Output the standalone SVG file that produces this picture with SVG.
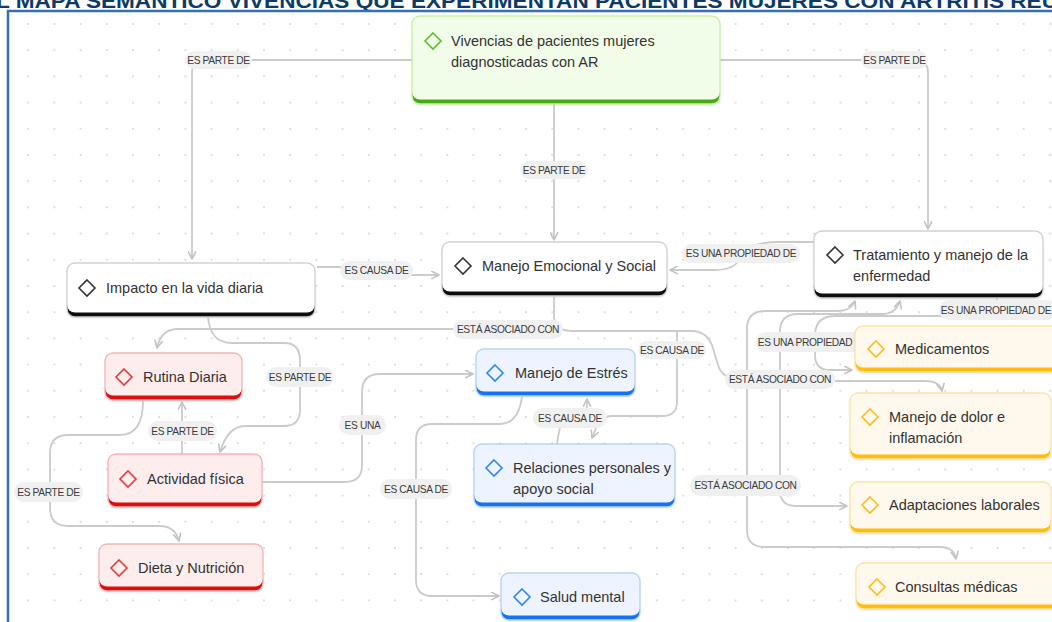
<svg xmlns="http://www.w3.org/2000/svg" width="1052" height="622" viewBox="0 0 1052 622">
<defs>
<pattern id="dots" patternUnits="userSpaceOnUse" x="1" y="23" width="26.2" height="26.2">
<circle cx="1" cy="1" r="0.9" fill="#cfcfcf"/>
</pattern>
<marker id="arr" viewBox="0 0 10 10" refX="9" refY="5" markerWidth="9" markerHeight="9" markerUnits="userSpaceOnUse" orient="auto-start-reverse">
<path d="M1,1 L9,5 L1,9" fill="none" stroke="#c2c2c2" stroke-width="1.8" stroke-linecap="round" stroke-linejoin="round"/>
</marker>
<filter id="sh" x="-5%" y="-10%" width="110%" height="130%">
<feDropShadow dx="0" dy="1" stdDeviation="1.2" flood-color="#000" flood-opacity="0.12"/>
</filter>
<style>
.conn{fill:none;stroke:#cbcbcb;stroke-width:1.8}
.lbl rect{fill:#f0f0f0}
.lbl text{font-family:"Liberation Sans",Arial,sans-serif;font-size:10.2px;fill:#3c3c3c;text-anchor:middle;letter-spacing:-0.35px}
.t{font-family:"Liberation Sans",Arial,sans-serif;font-size:14.5px;fill:#333}
.dm{fill:none;stroke-width:1.6}
.ol{fill:none;stroke-width:1.3}
.bar{filter:url(#sh)}
.w .bg{fill:#fff}.w .bar{fill:#111}.w .ol{stroke:#d2d2d2}.w .dm{stroke:#333}
.g .bg{fill:#f1fde9}.g .bar{fill:#4ca814}.g .ol{stroke:#c6f3a2}.g .dm{stroke:#5bbf2a}
.r .bg{fill:#fdeded}.r .bar{fill:#dd0a0a}.r .ol{stroke:#f7b4b4}.r .dm{stroke:#e8393b}
.b .bg{fill:#edf4ff}.b .bar{fill:#1672f0}.b .ol{stroke:#b7d3fb}.b .dm{stroke:#2f86f6}
.y .bg{fill:#fff8ec}.y .bar{fill:#ffbd0a}.y .ol{stroke:#fde3a7}.y .dm{stroke:#ffbb1c}
</style>
</defs>
<rect x="0" y="0" width="1052" height="622" fill="#fff"/>
<rect x="9" y="12" width="1043" height="610" fill="url(#dots)"/>
<text x="-4" y="7.5" font-family="Liberation Sans,Arial,sans-serif" font-weight="bold" font-size="20" fill="#0e3a66" textLength="1062" lengthAdjust="spacingAndGlyphs">L MAPA SEMÁNTICO VIVENCIAS QUE EXPERIMENTAN PACIENTES MUJERES CON ARTRITIS REU</text>
<path d="M 8,622 L 8,11 L 1052,11" fill="none" stroke="#3570b5" stroke-width="2.5"/>

<g id="connectors">
<path class="conn" marker-end="url(#arr)" d="M 412,60 L 205,60 Q 192,60 192,73 L 192,259"/>
<path class="conn" marker-end="url(#arr)" d="M 720,60 L 915,60 Q 928,60 928,73 L 928,229"/>
<path class="conn" marker-end="url(#arr)" d="M 554,104 L 554,240"/>
<path class="conn" marker-end="url(#arr)" d="M 317,267 L 360,267 Q 376,267 390,275 L 439,275"/>
<path class="conn" marker-end="url(#arr)" d="M 814,242 L 780,242 Q 745,242 740,258 Q 735,270 715,270 L 670,270"/>
<path class="conn" d="M 554,297 L 554,318 Q 556,331 572,331 L 692,331 Q 706,331 712,345 L 718,365 Q 722,378 735,378"/>
<path class="conn" marker-end="url(#arr)" d="M 563,329 L 178,329 Q 161,329 157,348"/>
<path class="conn" marker-end="url(#arr)" d="M 677,331 L 677,402 Q 677,416 662,416 L 610,416 Q 600,418 596,428 L 592,438"/>
<path class="conn" d="M 557,444 Q 558,436 560,428"/>
<path class="conn" marker-end="url(#arr)" d="M 587,410 L 587,399"/>
<path class="conn" marker-end="url(#arr)" d="M 522,397 Q 518,424 500,424 L 432,424 Q 416,424 416,440 L 416,580 Q 416,596 432,596 L 499,596"/>
<path class="conn" marker-end="url(#arr)" d="M 262,482 L 345,482 Q 362,482 362,465 L 362,392 Q 362,374 380,374 L 473,374"/>
<path class="conn" marker-end="url(#arr)" d="M 208,317 Q 210,343 232,343 L 284,343 Q 300,343 300,360 L 300,410 Q 300,426 284,426 L 245,426 Q 228,426 220,452"/>
<path class="conn" marker-end="url(#arr)" d="M 182,454 L 182,402"/>
<path class="conn" marker-end="url(#arr)" d="M 143,401 Q 143,435 120,435 L 68,435 Q 50,435 50,453 L 50,508 Q 50,526 68,526 L 160,526 Q 175,526 179,541"/>
<path class="conn" marker-start="url(#arr)" marker-end="url(#arr)" d="M 855,301 Q 851,311 838,311 L 765,311 Q 747,311 747,329 L 747,530 Q 747,547 765,547 L 940,547 Q 954,547 956,559"/>
<path class="conn" marker-start="url(#arr)" marker-end="url(#arr)" d="M 900,301 Q 896,314 882,314 L 798,314 Q 780,314 780,332 L 780,490 Q 780,506 796,506 L 847,506"/>
<path class="conn" d="M 997,298 L 997,305"/>
<path class="conn" marker-end="url(#arr)" d="M 945,316 L 835,316 Q 815,316 815,336 L 815,355 Q 815,370 830,370 L 852,370"/>
<path class="conn" marker-end="url(#arr)" d="M 835,381 L 925,381 Q 940,381 942,391"/>

<g class="lbl"><rect x="185" y="51" width="67" height="18" rx="9"/><text x="218.5" y="63.7">ES PARTE DE</text></g>
<g class="lbl"><rect x="861" y="51" width="67" height="18" rx="9"/><text x="894.5" y="63.7">ES PARTE DE</text></g>
<g class="lbl"><rect x="520" y="161" width="68" height="18" rx="9"/><text x="554" y="173.7">ES PARTE DE</text></g>
<g class="lbl"><rect x="340" y="261" width="73" height="19" rx="9.5"/><text x="376.5" y="274.2">ES CAUSA DE</text></g>
<g class="lbl"><rect x="682" y="244" width="118" height="19" rx="9.5"/><text x="741" y="257.2">ES UNA PROPIEDAD DE</text></g>
<g class="lbl"><rect x="453" y="320" width="110" height="19" rx="9.5"/><text x="508" y="333.2">ESTÁ ASOCIADO CON</text></g>
<g class="lbl"><rect x="638" y="341" width="68" height="18" rx="9"/><text x="672" y="353.7">ES CAUSA DE</text></g>
<g class="lbl"><rect x="266" y="367" width="68" height="20" rx="10"/><text x="300" y="380.7">ES PARTE DE</text></g>
<g class="lbl"><rect x="339" y="415" width="47" height="20" rx="10"/><text x="362.5" y="428.7">ES UNA</text></g>
<g class="lbl"><rect x="148" y="421" width="69" height="20" rx="10"/><text x="182.5" y="434.7">ES PARTE DE</text></g>
<g class="lbl"><rect x="14" y="482" width="69" height="20" rx="10"/><text x="48.5" y="495.7">ES PARTE DE</text></g>
<g class="lbl"><rect x="533" y="408" width="74" height="20" rx="10"/><text x="570" y="421.7">ES CAUSA DE</text></g>
<g class="lbl"><rect x="380" y="479" width="72" height="20" rx="10"/><text x="416" y="492.7">ES CAUSA DE</text></g>
<g class="lbl"><rect x="756" y="332" width="110" height="20" rx="10"/><text x="805" y="345.7">ES UNA PROPIEDAD</text></g>
<g class="lbl"><rect x="725" y="370" width="110" height="19" rx="9.5"/><text x="780" y="383.2">ESTÁ ASOCIADO CON</text></g>
<g class="lbl"><rect x="939" y="300" width="118" height="20" rx="10"/><text x="996" y="313.7">ES UNA PROPIEDAD DE</text></g>
<g class="lbl"><rect x="690" y="475" width="111" height="21" rx="10.5"/><text x="745.5" y="489.2">ESTÁ ASOCIADO CON</text></g>
</g>

<g id="n-vivencias" class="g">
<rect class="bar" x="412" y="16" width="308" height="88" rx="8"/>
<rect class="bg" x="412" y="16" width="308" height="83.5" rx="8"/>
<rect class="ol" x="412" y="16" width="308" height="88" rx="8"/>
<path class="dm" d="M433,33 L441,41 L433,49 L425,41 Z"/>
<text class="t" x="451" y="46">Vivencias de pacientes mujeres</text>
<text class="t" x="451" y="67">diagnosticadas con AR</text>
</g>
<g id="n-impacto" class="w">
<rect class="bar" x="67" y="263" width="248" height="54" rx="8"/>
<rect class="bg" x="67" y="263" width="248" height="49.5" rx="8"/>
<rect class="ol" x="67" y="263" width="248" height="54" rx="8"/>
<path class="dm" d="M87,280 L95,288 L87,296 L79,288 Z"/>
<text class="t" x="106" y="293">Impacto en la vida diaria</text>
</g>
<g id="n-emocional" class="w">
<rect class="bar" x="442" y="242" width="225" height="54" rx="8"/>
<rect class="bg" x="442" y="242" width="225" height="49.5" rx="8"/>
<rect class="ol" x="442" y="242" width="225" height="54" rx="8"/>
<path class="dm" d="M463,258 L471,266 L463,274 L455,266 Z"/>
<text class="t" x="482" y="271">Manejo Emocional y Social</text>
</g>
<g id="n-tratamiento" class="w">
<rect class="bar" x="814" y="231" width="229" height="67" rx="8"/>
<rect class="bg" x="814" y="231" width="229" height="62.5" rx="8"/>
<rect class="ol" x="814" y="231" width="229" height="67" rx="8"/>
<path class="dm" d="M835,247 L843,255 L835,263 L827,255 Z"/>
<text class="t" x="853" y="260">Tratamiento y manejo de la</text>
<text class="t" x="853" y="281">enfermedad</text>
</g>
<g id="n-rutina" class="r">
<rect class="bar" x="105" y="353" width="137" height="47" rx="8"/>
<rect class="bg" x="105" y="353" width="137" height="42.5" rx="8"/>
<rect class="ol" x="105" y="353" width="137" height="47" rx="8"/>
<path class="dm" d="M124,369 L132,377 L124,385 L116,377 Z"/>
<text class="t" x="143" y="382">Rutina Diaria</text>
</g>
<g id="n-actividad" class="r">
<rect class="bar" x="108" y="454" width="154" height="53" rx="8"/>
<rect class="bg" x="108" y="454" width="154" height="48.5" rx="8"/>
<rect class="ol" x="108" y="454" width="154" height="53" rx="8"/>
<path class="dm" d="M128,471 L136,479 L128,487 L120,479 Z"/>
<text class="t" x="147" y="484">Actividad física</text>
</g>
<g id="n-dieta" class="r">
<rect class="bar" x="99" y="544" width="164" height="47" rx="8"/>
<rect class="bg" x="99" y="544" width="164" height="42.5" rx="8"/>
<rect class="ol" x="99" y="544" width="164" height="47" rx="8"/>
<path class="dm" d="M119,560 L127,568 L119,576 L111,568 Z"/>
<text class="t" x="138" y="573">Dieta y Nutrición</text>
</g>
<g id="n-estres" class="b">
<rect class="bar" x="476" y="349" width="159" height="47" rx="8"/>
<rect class="bg" x="476" y="349" width="159" height="42.5" rx="8"/>
<rect class="ol" x="476" y="349" width="159" height="47" rx="8"/>
<path class="dm" d="M495,365 L503,373 L495,381 L487,373 Z"/>
<text class="t" x="515" y="378">Manejo de Estrés</text>
</g>
<g id="n-relaciones" class="b">
<rect class="bar" x="474" y="444" width="201" height="63" rx="8"/>
<rect class="bg" x="474" y="444" width="201" height="58.5" rx="8"/>
<rect class="ol" x="474" y="444" width="201" height="63" rx="8"/>
<path class="dm" d="M494,460 L502,468 L494,476 L486,468 Z"/>
<text class="t" x="513" y="473">Relaciones personales y</text>
<text class="t" x="513" y="494">apoyo social</text>
</g>
<g id="n-salud" class="b">
<rect class="bar" x="501" y="573" width="139" height="47" rx="8"/>
<rect class="bg" x="501" y="573" width="139" height="42.5" rx="8"/>
<rect class="ol" x="501" y="573" width="139" height="47" rx="8"/>
<path class="dm" d="M522,589 L530,597 L522,605 L514,597 Z"/>
<text class="t" x="540" y="602">Salud mental</text>
</g>
<g id="n-medicamentos" class="y">
<rect class="bar" x="855" y="326" width="205" height="46" rx="8"/>
<rect class="bg" x="855" y="326" width="205" height="41.5" rx="8"/>
<rect class="ol" x="855" y="326" width="205" height="46" rx="8"/>
<path class="dm" d="M876,341 L884,349 L876,357 L868,349 Z"/>
<text class="t" x="895" y="354">Medicamentos</text>
</g>
<g id="n-dolor" class="y">
<rect class="bar" x="850" y="393" width="201" height="66" rx="8"/>
<rect class="bg" x="850" y="393" width="201" height="61.5" rx="8"/>
<rect class="ol" x="850" y="393" width="201" height="66" rx="8"/>
<path class="dm" d="M870,409 L878,417 L870,425 L862,417 Z"/>
<text class="t" x="889" y="422">Manejo de dolor e</text>
<text class="t" x="889" y="443">inflamación</text>
</g>
<g id="n-adaptaciones" class="y">
<rect class="bar" x="850" y="482" width="201" height="51" rx="8"/>
<rect class="bg" x="850" y="482" width="201" height="46.5" rx="8"/>
<rect class="ol" x="850" y="482" width="201" height="51" rx="8"/>
<path class="dm" d="M870,497 L878,505 L870,513 L862,505 Z"/>
<text class="t" x="889" y="510">Adaptaciones laborales</text>
</g>
<g id="n-consultas" class="y">
<rect class="bar" x="856" y="563" width="205" height="46" rx="8"/>
<rect class="bg" x="856" y="563" width="205" height="41.5" rx="8"/>
<rect class="ol" x="856" y="563" width="205" height="46" rx="8"/>
<path class="dm" d="M877,579 L885,587 L877,595 L869,587 Z"/>
<text class="t" x="895" y="592">Consultas médicas</text>
</g>
</svg>
